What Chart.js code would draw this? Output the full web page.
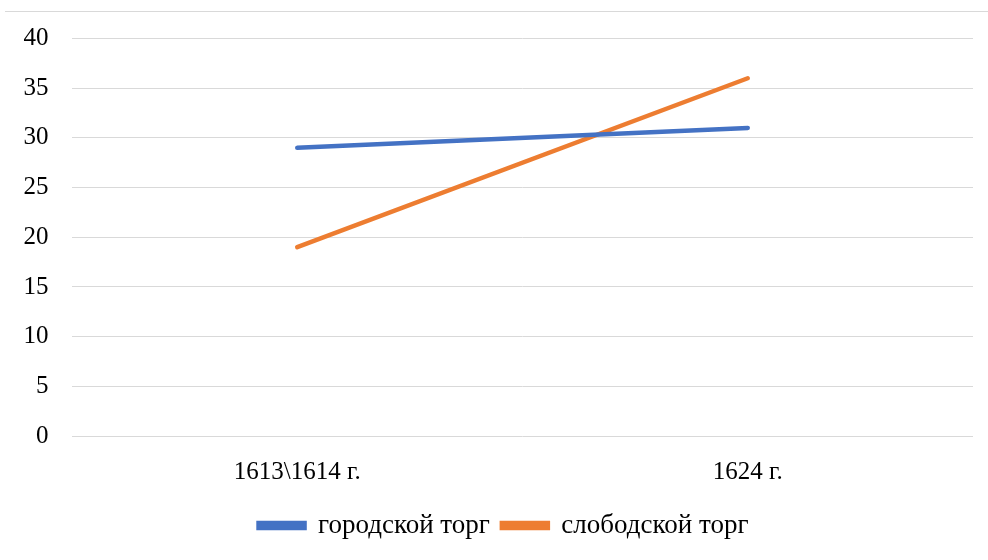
<!DOCTYPE html>
<html>
<head>
<meta charset="utf-8">
<script src="https://cdn.jsdelivr.net/npm/chart.js@4/dist/chart.umd.min.js"></script>
<style>
  html, body { margin: 0; padding: 0; background: #fff; }
  #wrap { position: relative; width: 988px; height: 560px; }
  #topline { position: absolute; left: 5px; right: 0; top: 11px; border-top: 1px solid #d9d9d9; }
</style>
</head>
<body>
<div id="wrap">
  <div id="topline"></div>
  <canvas id="chart" width="988" height="560"></canvas>
</div>
<script>
// categories and series
const periods = ['1613\\1614 г.', '1624 г.'];
const gorodskoy = [29, 31];
const slobodskoy = [19, 36];
const seriesNames = ['городской торг', 'слободской торг'];

const blue = '#4472C4';
const orange = '#ED7D31';
const font = "'Liberation Serif', 'Times New Roman', serif";

// nudge the legend a bit right, the original is centred on the whole picture
const legendShift = {
  id: 'legendShift',
  afterLayout(chart) {
    chart.legend.left += 17;
    chart.legend.right += 17;
  },
};

const ctx = document.getElementById('chart').getContext('2d');
new Chart(ctx, {
  type: 'line',
  data: {
    labels: periods,
    datasets: [
      {
        label: seriesNames[0],
        data: gorodskoy,
        borderColor: blue,
        backgroundColor: blue,
        borderWidth: 4.5,
        pointRadius: 0,
        borderCapStyle: 'round',
        tension: 0,
      },
      {
        label: seriesNames[1],
        data: slobodskoy,
        borderColor: orange,
        backgroundColor: orange,
        borderWidth: 4.5,
        pointRadius: 0,
        borderCapStyle: 'round',
        tension: 0,
      },
    ],
  },
  options: {
    responsive: false,
    animation: false,
    layout: {
      padding: { top: 36, right: 15, left: 0, bottom: 11 },
    },
    scales: {
      x: {
        offset: true,
        grid: { display: false },
        border: { display: false },
        ticks: {
          color: '#000',
          font: { family: font, size: 25 },
          padding: 13,
          maxRotation: 0,
        },
      },
      y: {
        min: 0,
        max: 40,
        ticks: {
          stepSize: 5,
          color: '#000',
          font: { family: font, size: 25 },
          padding: 23.5,
        },
        grid: { color: '#d9d9d9', drawTicks: false, lineWidth: 1 },
        border: { display: false },
      },
    },
    plugins: {
      legend: {
        position: 'bottom',
        labels: {
          color: '#000',
          font: { family: font, size: 27 },
          boxWidth: 46,
          boxHeight: 5,
          padding: 12,
        },
      },
      tooltip: { enabled: false },
    },
  },
  plugins: [legendShift],
});
</script>
</body>
</html>
